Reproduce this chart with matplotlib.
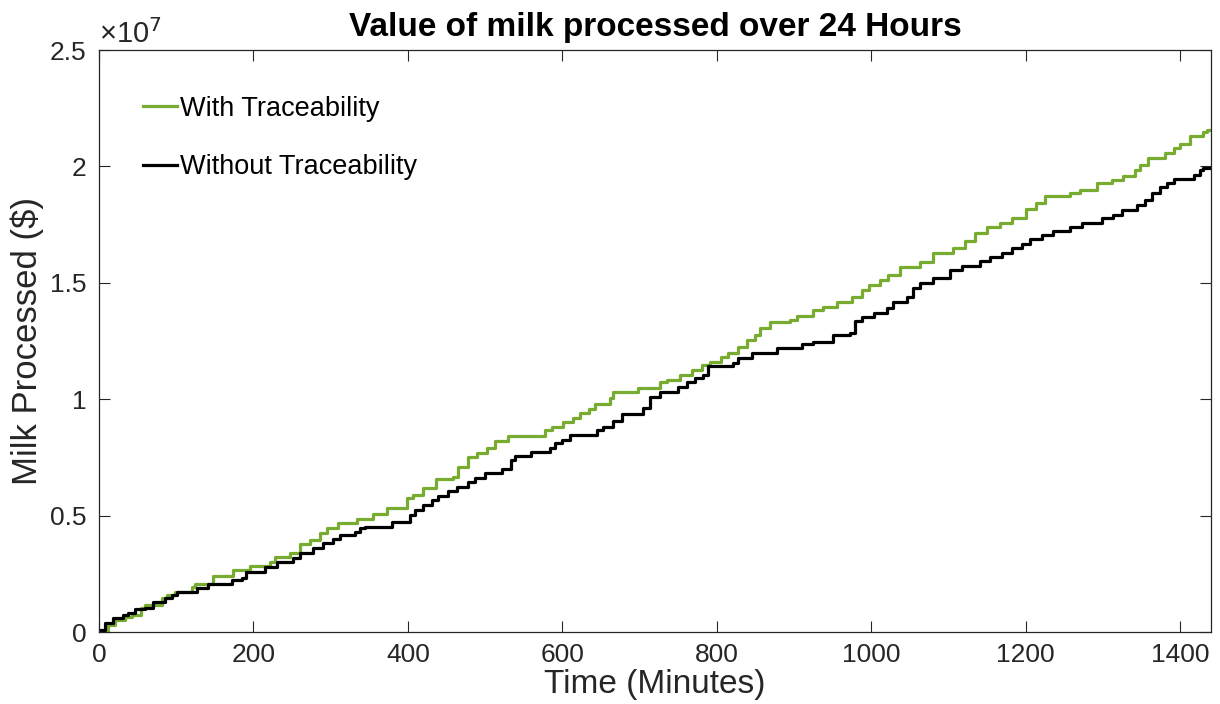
import matplotlib
matplotlib.use("Agg")
import matplotlib.pyplot as plt
from matplotlib.ticker import FuncFormatter, FixedLocator

plt.rcParams['font.family'] = ['Liberation Sans', 'DejaVu Sans']

# Time (minutes) and milk processed value ($ millions), stair-step series
with_t = [0, 12, 20.7, 33.7, 42.3, 55, 59.6, 81, 87.7, 98.4, 120, 124.3, 148, 174, 195.5, 221, 228, 247,
          260, 273, 286, 295, 310, 334, 355, 372.6, 398.5, 407, 420, 437, 459, 465, 478, 489, 502, 513,
          530, 577.6, 586, 601, 614, 623, 634, 642, 662, 666, 698, 726, 735, 752, 767.5, 780.5, 791, 806,
          815, 828, 839, 849.5, 856, 869, 895, 903.5, 925, 938, 955.5, 975, 988, 996.5, 1011.5, 1022,
          1037, 1063, 1080.5, 1106, 1121.5, 1134.5, 1149.5, 1167, 1182, 1201, 1214, 1225, 1257.5, 1270,
          1292, 1311.5, 1326.5, 1341.5, 1348, 1359, 1380.5, 1391.5, 1400, 1413, 1430, 1434.5, 1440]
with_v = [0, 0.30, 0.51, 0.66, 0.73, 1.02, 1.16, 1.45, 1.59, 1.73, 1.95, 2.05, 2.42, 2.66, 2.83, 3.02, 3.23, 3.38,
          3.78, 3.95, 4.24, 4.45, 4.67, 4.84, 5.07, 5.31, 5.74, 5.88, 6.17, 6.56, 6.67, 7.10, 7.53, 7.70, 7.89, 8.22,
          8.42, 8.68, 8.82, 9.00, 9.18, 9.39, 9.58, 9.78, 10.04, 10.32, 10.49, 10.72, 10.82, 11.04, 11.25, 11.47, 11.61, 11.83,
          11.97, 12.25, 12.54, 12.76, 13.05, 13.30, 13.40, 13.59, 13.83, 13.97, 14.19, 14.40, 14.69, 14.91, 15.12, 15.34,
          15.69, 15.88, 16.27, 16.48, 16.81, 17.13, 17.38, 17.58, 17.77, 18.16, 18.41, 18.73, 18.87, 19.00,
          19.27, 19.42, 19.60, 19.85, 20.06, 20.37, 20.56, 20.77, 20.95, 21.32, 21.46, 21.56, 21.56]

without_t = [0, 1.3, 7.8, 18.6, 31.5, 38, 46.6, 59.6, 70.4, 85.5, 94, 100.6, 126.5, 141.6, 171.8, 184.8, 191, 215,
             230, 251.6, 260, 277.5, 290.5, 303, 312, 331.5, 338, 344.5, 379, 403, 409, 420, 431, 439, 452, 463,
             478, 487, 500, 521.5, 534, 539, 560, 584, 590.5, 599, 610, 644.5, 653, 666, 677, 705, 713.5, 726.5,
             750, 761, 772, 782.5, 789, 821.5, 828, 845, 877.5, 910, 925, 951, 972.5, 979, 988, 1003, 1020, 1028.6,
             1046, 1054.5, 1063, 1080.5, 1102, 1117, 1141, 1154, 1169, 1182, 1195, 1206, 1221, 1236, 1257.5, 1272.5,
             1298.5, 1313.5, 1324.5, 1344, 1354.5, 1363, 1374, 1383, 1391.5, 1417.5, 1426, 1430, 1440]
without_v = [0, 0.09, 0.37, 0.59, 0.73, 0.80, 0.97, 1.02, 1.30, 1.45, 1.59, 1.73, 1.88, 2.05, 2.23, 2.33, 2.59, 2.80,
             3.02, 3.16, 3.38, 3.59, 3.81, 3.98, 4.17, 4.31, 4.45, 4.52, 4.74, 5.03, 5.24, 5.46, 5.67, 5.84, 6.07, 6.24,
             6.46, 6.60, 6.82, 6.99, 7.39, 7.56, 7.72, 7.92, 8.10, 8.25, 8.46, 8.68, 8.82, 9.06, 9.35, 9.61, 10.11, 10.32,
             10.54, 10.72, 10.90, 11.04, 11.44, 11.54, 11.78, 11.97, 12.18, 12.36, 12.44, 12.76, 12.83, 13.36, 13.54, 13.69, 13.90, 14.19,
             14.40, 14.76, 14.98, 15.19, 15.55, 15.72, 15.95, 16.09, 16.29, 16.48, 16.67, 16.87, 17.05, 17.24, 17.38, 17.58,
             17.77, 17.91, 18.13, 18.34, 18.56, 18.84, 19.13, 19.27, 19.48, 19.63, 19.85, 19.92, 19.92]

x_ticks = [0, 200, 400, 600, 800, 1000, 1200, 1400]
y_ticks = [0, 0.5e7, 1.0e7, 1.5e7, 2.0e7, 2.5e7]
y_tick_labels = ['0', '0.5', '1', '1.5', '2', '2.5']

series_labels = ['With Traceability', 'Without Traceability']
title = 'Value of milk processed over 24 Hours'

fig = plt.figure(figsize=(12.2, 7.04), dpi=100)
ax = fig.add_axes([99 / 1220, 1 - 632 / 704, 1112 / 1220, 582 / 704])

axcol = '#262626'
ax.plot(with_t, [v * 1e6 for v in with_v], drawstyle='steps-post', color='#77AC30', lw=2.3, label=series_labels[0])
ax.plot(without_t, [v * 1e6 for v in without_v], drawstyle='steps-post', color='black', lw=2.3, label=series_labels[1])

ax.set_xlim(0, 1440)
ax.set_ylim(0, 2.5e7)
ax.xaxis.set_major_locator(FixedLocator(x_ticks))
ax.yaxis.set_major_locator(FixedLocator(y_ticks))
ax.yaxis.set_major_formatter(FuncFormatter(lambda v, p: y_tick_labels[y_ticks.index(v)] if v in y_ticks else ''))

ax.tick_params(direction='in', length=8, width=0.8, colors=axcol, labelsize=19, top=True, right=True)
ax.tick_params(axis='x', pad=8)
ax.tick_params(axis='y', pad=9)
for s in ax.spines.values():
    s.set_color(axcol)
    s.set_linewidth(0.9)

ax.set_xlabel('Time (Minutes)', fontsize=24, color=axcol, labelpad=1)
ax.set_ylabel('Milk Processed ($)', fontsize=25, color=axcol, labelpad=4)
ax.set_title(title, fontsize=24, fontweight='bold', color='black', pad=10)
ax.text(0.0, 1.002, '\u00d710$^{7}$', transform=ax.transAxes, fontsize=21, color=axcol, ha='left', va='bottom')

ax.legend(loc='upper left', bbox_to_anchor=(0.03, 0.94), frameon=False, fontsize=19.5,
          handlelength=1.25, handletextpad=0.1, labelspacing=1.2, borderaxespad=0)

fig.savefig('out.png', dpi=100)
